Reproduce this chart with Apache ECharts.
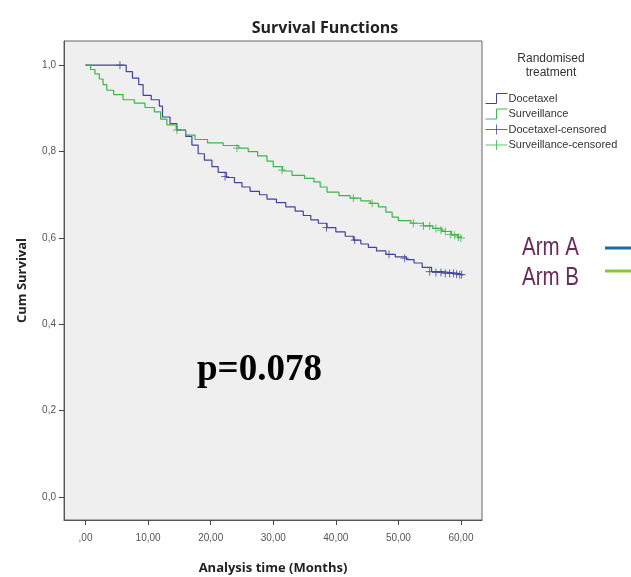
<!DOCTYPE html>
<html>
<head>
<meta charset="utf-8">
<script src="https://cdn.jsdelivr.net/npm/echarts@6/dist/echarts.min.js"></script>
<style>
  html, body { margin: 0; padding: 0; background: #fff; }
  #chart { width: 631px; height: 577px; }
</style>
</head>
<body>
<div id="chart"></div>
<script>
  // step curves (time in months, cum survival)
  var docTimes = [0, 6.5, 7.5, 8.5, 9.2, 10.5, 11.8, 12.3, 13.5, 14.6, 16, 17, 18, 19, 20.2, 21.2, 22.5, 23.8, 25, 26.3, 27.8, 29, 30.5, 32, 33.5, 34.8, 36, 37.2, 38.6, 40, 41.5, 42.8, 44, 45.2, 46.5, 48, 49.5, 51.3, 52.5, 53.8, 55.3, 57, 59.5, 60.3];
  var docSurv  = [1.0, 0.985, 0.97, 0.955, 0.93, 0.92, 0.905, 0.88, 0.865, 0.85, 0.835, 0.815, 0.795, 0.78, 0.765, 0.752, 0.74, 0.728, 0.718, 0.708, 0.70, 0.69, 0.682, 0.672, 0.662, 0.652, 0.642, 0.634, 0.624, 0.614, 0.604, 0.595, 0.586, 0.578, 0.57, 0.562, 0.556, 0.55, 0.542, 0.532, 0.522, 0.518, 0.515, 0.515];

  var survTimes = [0, 0.8, 1.5, 2.2, 2.8, 3.4, 4.5, 6, 7.8, 9.5, 11, 12, 13, 14.5, 16, 17.5, 19.5, 22, 24.5, 26, 27.5, 29, 30, 31.5, 33, 35, 36.5, 37.5, 38.6, 40.5, 42.3, 44, 45.5, 46.8, 48, 49, 50, 52, 54, 55.5, 57, 58.5, 59.5, 60];
  var survSurv  = [1.0, 0.99, 0.98, 0.968, 0.955, 0.942, 0.932, 0.92, 0.912, 0.902, 0.892, 0.875, 0.862, 0.85, 0.838, 0.828, 0.82, 0.814, 0.808, 0.80, 0.79, 0.778, 0.765, 0.755, 0.745, 0.738, 0.73, 0.718, 0.706, 0.698, 0.692, 0.686, 0.68, 0.672, 0.66, 0.648, 0.64, 0.634, 0.628, 0.622, 0.615, 0.608, 0.602, 0.600];

  // censoring marks
  var docCensT = [5.5, 22.3, 38.5, 43, 48.5, 51, 55, 56, 56.8, 57.5, 58.2, 58.8, 59.3, 59.8, 60.1];
  var docCensS = [1.0, 0.742, 0.624, 0.595, 0.562, 0.553, 0.522, 0.52, 0.52, 0.518, 0.518, 0.518, 0.516, 0.515, 0.515];
  var survCensT = [14.6, 24.2, 31.4, 42.8, 45.8, 52.4, 54, 55, 56, 56.8, 57.5, 58.3, 59, 59.6, 60];
  var survCensS = [0.85, 0.808, 0.757, 0.692, 0.68, 0.634, 0.628, 0.628, 0.622, 0.618, 0.615, 0.608, 0.606, 0.602, 0.600];

  var xTicks = [0, 10, 20, 30, 40, 50, 60];
  var yTicks = [0, 0.2, 0.4, 0.6, 0.8, 1.0];

  var blue = '#43439c';
  var green = '#3cb54a';
  var plus = 'path://M0,5L10,5M5,0L5,10';
  var stepIcon = 'path://M0,10L11,10L11,0L22,0';
  var plusIcon = 'path://M0,5L22,5M11,0L11,10';

  function pairs(t, s) {
    var out = [];
    for (var i = 0; i < t.length; i++) out.push([t[i], s[i]]);
    return out;
  }

  var myChart = echarts.init(document.getElementById('chart'));
  var option = {
    animation: false,
    backgroundColor: '#fff',
    grid: {
      left: 64, right: 149, top: 41, bottom: 57, outerBoundsMode: 'none', containLabel: false,
      show: true, backgroundColor: '#efefef', borderColor: '#666', borderWidth: 1
    },
    xAxis: {
      type: 'value', min: -3.44, max: 63.36,
      name: 'Analysis time (Months)', nameLocation: 'middle', nameGap: 42,
      nameTextStyle: { fontFamily: 'Open Sans', fontWeight: 'bold', fontSize: 13, color: '#222' },
      splitLine: { show: false },
      axisLine: { onZero: false, lineStyle: { color: '#555' } },
      axisTick: { customValues: xTicks, length: 5, lineStyle: { color: '#444' } },
      axisLabel: {
        customValues: xTicks, fontFamily: 'Liberation Sans', fontSize: 10, color: '#555', margin: 13,
        formatter: function (v) { return v === 0 ? ',00' : v.toFixed(2).replace('.', ','); }
      }
    },
    yAxis: {
      type: 'value', min: -0.053, max: 1.056,
      name: 'Cum Survival', nameLocation: 'middle', nameGap: 35, nameRotate: 90,
      nameTextStyle: { fontFamily: 'Open Sans', fontWeight: 'bold', fontSize: 13, color: '#222' },
      splitLine: { show: false },
      axisLine: { show: true, onZero: false, lineStyle: { color: '#555' } },
      axisTick: { show: true, customValues: yTicks, length: 5, lineStyle: { color: '#444' } },
      axisLabel: {
        customValues: yTicks, fontFamily: 'Liberation Sans', fontSize: 10, color: '#555', margin: 8,
        formatter: function (v) { return v.toFixed(1).replace('.', ','); }
      }
    },
    title: {
      text: 'Survival Functions', left: 320, top: 15, textAlign: 'center',
      textStyle: { fontFamily: 'Open Sans', fontWeight: 'bold', fontSize: 16, color: '#222' }
    },
    legend: {
      orient: 'vertical', left: 483, top: 91, padding: 0, itemWidth: 22, itemHeight: 10, itemGap: 0.5,
      textStyle: { fontFamily: 'Liberation Sans', fontSize: 11, lineHeight: 12, color: '#333', padding: [0, 0, 0, -4] },
      data: [
        { name: 'Docetaxel', icon: stepIcon, itemStyle: { color: 'none', borderColor: blue, borderWidth: 1 } },
        { name: 'Surveillance', icon: stepIcon, itemStyle: { color: 'none', borderColor: green, borderWidth: 1 } },
        { name: 'Docetaxel-censored', icon: plusIcon, itemStyle: { color: 'none', borderColor: blue, borderWidth: 1 } },
        { name: 'Surveillance-censored', icon: plusIcon, itemStyle: { color: 'none', borderColor: green, borderWidth: 1 } }
      ]
    },
    graphic: [
      { type: 'text', x: 551, y: 52, style: { text: 'Randomised\ntreatment', align: 'center', fontFamily: 'Liberation Sans', fontSize: 12, lineHeight: 14, fill: '#333' } },
      { type: 'text', x: 522, y: 236, scaleX: 0.82, style: { text: 'Arm A', fontFamily: 'Liberation Sans', fontSize: 25, fill: '#6a2a5a' } },
      { type: 'text', x: 522, y: 266, scaleX: 0.82, style: { text: 'Arm B', fontFamily: 'Liberation Sans', fontSize: 25, fill: '#6a2a5a' } },
      { type: 'line', shape: { x1: 605, y1: 248, x2: 631, y2: 248 }, style: { stroke: '#1f6aa5', lineWidth: 3 } },
      { type: 'line', shape: { x1: 605, y1: 271, x2: 631, y2: 271 }, style: { stroke: '#8cc63f', lineWidth: 3 } },
      { type: 'text', x: 197, y: 352, style: { text: 'p=0.078', fontFamily: 'Liberation Serif', fontWeight: 'bold', fontSize: 37, fill: '#000' } }
    ],
    series: [
      { name: 'Docetaxel', type: 'line', step: 'end', showSymbol: false, data: pairs(docTimes, docSurv), lineStyle: { color: blue, width: 1.2 }, itemStyle: { color: blue } },
      { name: 'Surveillance', type: 'line', step: 'end', showSymbol: false, data: pairs(survTimes, survSurv), lineStyle: { color: green, width: 1.2 }, itemStyle: { color: green } },
      { name: 'Docetaxel-censored', type: 'scatter', symbol: plus, symbolSize: 8, data: pairs(docCensT, docCensS), itemStyle: { color: 'none', borderColor: blue, borderWidth: 1 } },
      { name: 'Surveillance-censored', type: 'scatter', symbol: plus, symbolSize: 8, data: pairs(survCensT, survCensS), itemStyle: { color: 'none', borderColor: green, borderWidth: 1 } }
    ]
  };
  option && myChart.setOption(option);
</script>
</body>
</html>
